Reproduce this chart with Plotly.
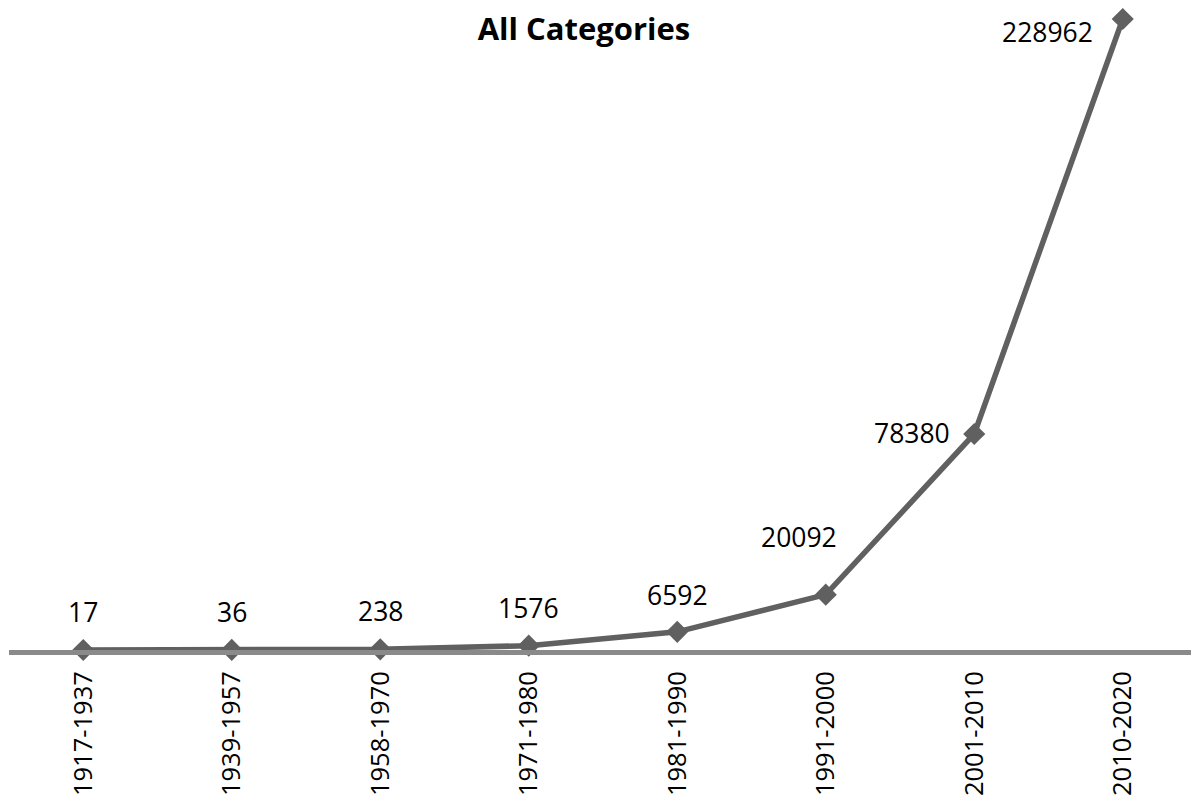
import plotly.graph_objects as go

categories = ["1917-1937", "1939-1957", "1958-1970", "1971-1980",
              "1981-1990", "1991-2000", "2001-2010", "2010-2020"]
values = [17, 36, 238, 1576, 6592, 20092, 78380, 228962]
labels = [str(v) for v in values]

# label placement offsets (pixels) relative to each point
label_dx = [0, 0, 0, 0, 0, -27, -22, -28]
label_dy = [38, 38, 38, 38, 37, 58, 1, -13]
label_anchor = ["center"] * 6 + ["right", "right"]

FONT = "Open Sans"
LINE_COLOR = "#606060"
AXIS_COLOR = "#8a8a8a"

W, H = 1191, 804
ML, MB, MT, MR = 9, 154, 0, 0
plot_h = H - MB - MT
ymax = max(values) * plot_h / 631.0

fig = go.Figure()
fig.add_trace(go.Scatter(
    x=list(range(len(categories))), y=values, mode="lines+markers",
    line=dict(color=LINE_COLOR, width=5.5),
    marker=dict(symbol="diamond", size=17, color=LINE_COLOR, line=dict(width=0)),
    cliponaxis=False, showlegend=False, hoverinfo="skip",
))

for i, (lab, v) in enumerate(zip(labels, values)):
    fig.add_annotation(
        x=i, y=v, text=lab, showarrow=False,
        xanchor=label_anchor[i], yanchor="middle",
        xshift=label_dx[i], yshift=label_dy[i],
        font=dict(family=FONT, size=26.5, color="#000000"),
    )

fig.update_layout(
    width=W, height=H,
    margin=dict(l=ML, r=MR, t=MT, b=MB),
    paper_bgcolor="white", plot_bgcolor="white",
    title=dict(text="<b>All Categories</b>", x=584 / W, xref="container", xanchor="center",
               y=1 - 29 / H, yref="container", yanchor="middle",
               font=dict(family=FONT, size=31, color="#000000")),
    xaxis=dict(
        tickmode="array", tickvals=list(range(len(categories))), ticktext=categories,
        range=[-0.5, -0.5 + (W - ML) / 148.5], tickangle=-90,
        showgrid=False, zeroline=False, showline=True,
        linecolor=AXIS_COLOR, linewidth=5, ticks="",
        tickfont=dict(family=FONT, size=25.5, color="#000000"),
        ticklabelstandoff=6,
    ),
    yaxis=dict(range=[0, ymax], visible=False, showgrid=False, zeroline=False),
)

fig.write_html("out.html")
